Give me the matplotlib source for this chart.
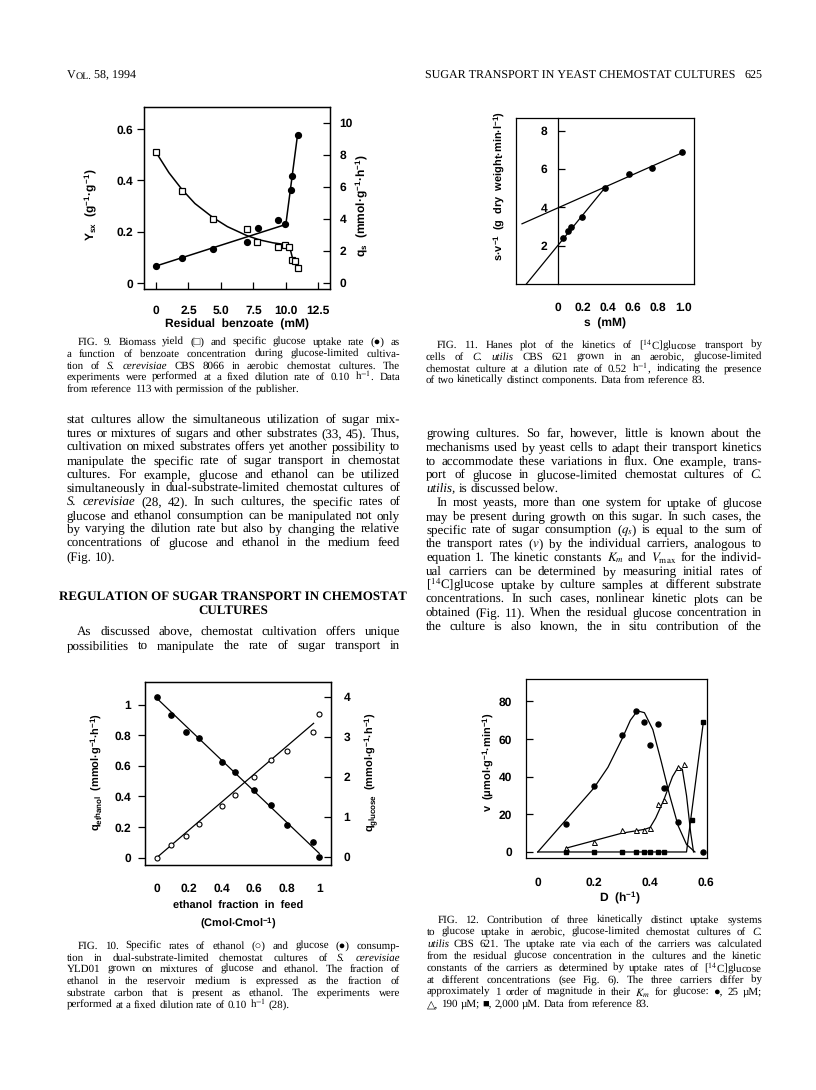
import matplotlib
matplotlib.use("Agg")
import matplotlib.pyplot as plt
from matplotlib.font_manager import FontProperties

plt.rcParams['font.family'] = ['Liberation Sans', 'DejaVu Sans']
plt.rcParams['mathtext.fontset'] = 'custom'
plt.rcParams['mathtext.rm'] = 'Liberation Sans:bold'
plt.rcParams['mathtext.it'] = 'Liberation Sans:italic:bold'
plt.rcParams['mathtext.bf'] = 'Liberation Sans:bold'
plt.rcParams['axes.linewidth'] = 0.9
plt.rcParams['text.hinting'] = 'no_hinting'
plt.rcParams['text.hinting_factor'] = 1

# ---- Fig. 9 data (benzoate)
benz_sq = [0, 1.98, 4.41, 6.98, 7.80, 9.37, 9.93, 10.27, 10.45, 10.70, 10.96]
yield_sq = [0.51, 0.36, 0.25, 0.21, 0.16, 0.14, 0.15, 0.14, 0.09, 0.085, 0.06]
benz_ci = [0, 1.98, 4.36, 7.0, 7.85, 9.37, 9.93, 10.37, 10.5, 10.9]
qs_ci = [1.06, 1.58, 2.10, 2.56, 3.45, 3.95, 3.66, 5.80, 6.70, 9.25]
fit9_sq_x = [0, 1, 2, 3, 4.4, 5.5, 7, 8, 9, 10, 10.3, 10.5, 10.7, 10.96]
fit9_sq_y = [0.51, 0.43, 0.365, 0.31, 0.255, 0.22, 0.185, 0.168, 0.157, 0.15, 0.14, 0.10, 0.08, 0.06]
fit9_ci_x = [0, 10.0, 10.9]
fit9_ci_y = [1.06, 3.66, 9.25]

# ---- Fig. 10 data (ethanol fraction)
eth_frac = [0, 0.09, 0.18, 0.26, 0.40, 0.48, 0.60, 0.70, 0.80, 0.96, 1.0]
q_eth = [0, 0.08, 0.14, 0.22, 0.34, 0.41, 0.53, 0.64, 0.70, 0.82, 0.94]
glc_frac = [0, 0.09, 0.18, 0.26, 0.40, 0.48, 0.60, 0.70, 0.80, 0.96, 1.0]
q_glc = [4.0, 3.55, 3.13, 2.98, 2.37, 2.13, 1.67, 1.29, 0.80, 0.38, 0.0]
fit10_eth_x = [0, 0.965]
fit10_eth_y = [0, 0.878]
fit10_glc_x = [0, 1.0]
fit10_glc_y = [3.97, 0.09]

# ---- Fig. 11 data (Hanes plot)
s_mm = [0.04, 0.075, 0.10, 0.19, 0.375, 0.565, 0.75, 0.99]
s_over_v = [2.42, 2.77, 2.96, 3.48, 5.03, 5.74, 6.03, 6.87]
fit11_a_x = [-0.29, 1.0]
fit11_a_y = [3.14, 6.87]
fit11_b_x = [-0.255, 0.375]
fit11_b_y = [0.0, 5.03]

# ---- Fig. 12 data (dilution rate)
d_ci = [0.10, 0.20, 0.30, 0.35, 0.38, 0.40, 0.43, 0.45, 0.50, 0.59]
v_ci = [15, 35, 62, 75, 69, 57, 68, 34, 16, 0]
d_tr = [0.10, 0.20, 0.30, 0.35, 0.38, 0.40, 0.43, 0.45, 0.50, 0.52]
v_tr = [2, 5.5, 11.5, 11.5, 11.5, 12.5, 25.5, 27.5, 45, 47]
d_sq = [0.10, 0.20, 0.30, 0.35, 0.38, 0.40, 0.43, 0.45, 0.55, 0.59]
v_sq = [0, 0, 0, 0, 0, 0, 0, 0, 17, 69]
fit12_ci_x = [0, 0.1, 0.2, 0.25, 0.3, 0.33, 0.355, 0.38, 0.41, 0.44, 0.47, 0.50, 0.53, 0.56]
fit12_ci_y = [0, 17, 34, 45, 60, 70, 75, 74, 65, 48, 30, 14, 4, 0]
fit12_tr_x = [0.1, 0.2, 0.3, 0.38, 0.40, 0.42, 0.45, 0.48, 0.50, 0.515, 0.53, 0.545, 0.555]
fit12_tr_y = [2, 6, 10, 12, 13, 18, 28, 40, 45, 44, 30, 10, 0]
fit12_sq_x = [0, 0.53, 0.59]
fit12_sq_y = [0, 0, 69]

W, H = 816, 1090
fig = plt.figure(figsize=(W / 100, H / 100), dpi=100)
rend = fig.canvas.get_renderer()
SERIF = 'Liberation Serif'
SERIF_FB = ['Liberation Serif', 'DejaVu Sans']
SYMBOLS = '\u25a1\u25cf\u25cb\u25b3\u25a0'


def fy(y):
    return 1 - y / H


def box(l, t, r, b):
    return fig.add_axes([l / W, 1 - b / H, (r - l) / W, (b - t) / H])


def bold_ticks(*axs):
    for a in axs:
        for lbl in a.get_xticklabels() + a.get_yticklabels():
            lbl.set_fontweight('bold')


def parse(w):
    style = 'normal'
    if len(w) > 2 and w.startswith('*') and w.endswith('*'):
        w, style = w[1:-1], 'italic'
    fam = SERIF_FB if any(c in SYMBOLS for c in w) else SERIF
    return w, style, fam


def measure(w, style, fam, size, weight='normal'):
    prop = FontProperties(family=fam, style=style, weight=weight, size=size,
                          math_fontfamily='stix')
    ismath = w.count('$') >= 2
    return rend.get_text_width_height_descent(w, prop, ismath=ismath)[0]


def line(x0, x1, y, s, size, justify=True, weight='normal'):
    words = [parse(w) for w in s.split(' ')]
    n = len(words)
    while True:
        widths = [measure(w, st, fam, size, weight) for w, st, fam in words]
        px = size * 100 / 72
        sp = 0.25 * px
        if justify and n > 1:
            sp = (x1 - x0 - sum(widths)) / (n - 1)
        if sp >= 0.17 * px or size < 5:
            break
        size *= 0.98
    x = x0
    for (w, st, fam), wd in zip(words, widths):
        fig.text(x / W, fy(y), w, fontsize=size, family=fam, style=st, weight=weight,
                 math_fontfamily='stix', ha='left', va='baseline')
        x += wd + sp


def block(x0, x1, y0, dy, rows, size, ragged=(), indent=(), ind=10.5):
    for i, s in enumerate(rows):
        xs = x0 + (ind if i in indent else 0)
        line(xs, x1, round(y0 + i * dy + size * 0.5), s, size, justify=i not in ragged)


# ---------------- running head
x = 66.7
for piece, sz in [('V', 8.8), ('OL.', 6.9)]:
    fig.text(x / W, fy(78.5), piece, fontsize=sz, family=SERIF, ha='left', va='baseline')
    x += measure(piece, 'normal', SERIF, sz)
fig.text((x + 2.5) / W, fy(78.5), '58, 1994', fontsize=8.8, family=SERIF, ha='left', va='baseline')
fig.text(425 / W, fy(78.5), 'SUGAR TRANSPORT IN YEAST CHEMOSTAT CULTURES', fontsize=8.3,
         family=SERIF, ha='left', va='baseline')
fig.text(762 / W, fy(78.5), '625', fontsize=8.8, family=SERIF, ha='right', va='baseline')

# ---------------- FIG 9
ax = box(144, 107, 330, 289)
ax.plot(fit9_sq_x, fit9_sq_y, color='black', lw=1.1)
ax.plot(benz_sq, yield_sq, ls='none', marker='s', ms=4.2, mfc='white', mec='black', mew=0.9)
ax.set_xlim(-0.92, 13.4)
ax.set_ylim(-0.023, 0.686)
ax.set_xticks([0, 2.5, 5, 7.5, 10, 12.5])
ax.set_xticklabels(['0', '2.5', '5.0', '7.5', '10.0', '12.5'])
ax.set_yticks([0, 0.2, 0.4, 0.6])
ax.set_yticklabels(['0', '0.2', '0.4', '0.6'])
ax.tick_params(axis='x', direction='in', length=5, width=0.9, pad=12, labelsize=8.3)
ax.tick_params(axis='y', direction='out', length=5, width=0.9, pad=3, labelsize=8.3)
ax2 = ax.twinx()
ax2.plot(fit9_ci_x, fit9_ci_y, color='black', lw=1.1)
ax2.plot(benz_ci, qs_ci, ls='none', marker='o', ms=4.2, color='black')
ax2.set_ylim(-0.375, 11.0)
ax2.set_yticks([0, 2, 4, 6, 8, 10])
ax2.tick_params(axis='y', direction='in', length=5, width=0.9, pad=7, labelsize=8.3)
bold_ticks(ax, ax2)
fig.text(91 / W, fy(205), r'Y$_{\mathrm{sx}}$  (g$^{-1}$·g$^{-1}$)', rotation=90,
         ha='center', va='center', fontsize=8.3, weight='bold')
fig.text(362 / W, fy(205), r'q$_{\mathrm{s}}$  (mmol·g$^{-1}$·h$^{-1}$)', rotation=90,
         ha='center', va='center', fontsize=8.3, weight='bold')
fig.text(237 / W, fy(324), 'Residual  benzoate  (mM)', ha='center', va='center',
         fontsize=8.5, weight='bold')

cap9 = ['FIG. 9. Biomass yield (\u25a1) and specific glucose uptake rate (\u25cf) as',
        'a function of benzoate concentration during glucose-limited cultiva-',
        'tion of *S.* *cerevisiae* CBS 8066 in aerobic chemostat cultures. The',
        'experiments were performed at a fixed dilution rate of 0.10 h$^{-1}$. Data',
        'from reference 113 with permission of the publisher.']
block(66.7, 400, 340.7, 11.9, cap9, 8.1, ragged=(4,), indent=(0,))

# ---------------- left body text
body_l = ['stat cultures allow the simultaneous utilization of sugar mix-',
          'tures or mixtures of sugars and other substrates (33, 45). Thus,',
          'cultivation on mixed substrates offers yet another possibility to',
          'manipulate the specific rate of sugar transport in chemostat',
          'cultures. For example, glucose and ethanol can be utilized',
          'simultaneously in dual-substrate-limited chemostat cultures of',
          '*S.* *cerevisiae* (28, 42). In such cultures, the specific rates of',
          'glucose and ethanol consumption can be manipulated not only',
          'by varying the dilution rate but also by changing the relative',
          'concentrations of glucose and ethanol in the medium feed',
          '(Fig. 10).']
block(66.7, 400, 418.3, 13.7, body_l, 9.2, ragged=(10,))
fig.text(233 / W, fy(599.5), 'REGULATION OF SUGAR TRANSPORT IN CHEMOSTAT', fontsize=9.1,
         family=SERIF, weight='bold', ha='center', va='baseline')
fig.text(233 / W, fy(613.5), 'CULTURES', fontsize=9.1, family=SERIF, weight='bold',
         ha='center', va='baseline')
body_l2 = ['As discussed above, chemostat cultivation offers unique',
           'possibilities to manipulate the rate of sugar transport in']
block(66.7, 400, 630.7, 13.7, body_l2, 9.2, indent=(0,))

# ---------------- FIG 10
ax = box(145, 682, 331, 865)
ax.plot(fit10_eth_x, fit10_eth_y, color='black', lw=0.9)
ax.plot(eth_frac, q_eth, ls='none', marker='o', ms=3.6, mfc='white', mec='black', mew=0.8)
ax.set_xlim(-0.072, 1.072)
ax.set_ylim(-0.048, 1.148)
ax.set_xticks([0, 0.2, 0.4, 0.6, 0.8, 1.0])
ax.set_xticklabels(['0', '0.2', '0.4', '0.6', '0.8', '1'])
ax.set_yticks([0, 0.2, 0.4, 0.6, 0.8, 1.0])
ax.set_yticklabels(['0', '0.2', '0.4', '0.6', '0.8', '1'])
ax.tick_params(axis='x', direction='in', length=0, pad=13, labelsize=8.3)
ax.tick_params(axis='y', direction='out', length=5, width=0.9, pad=5, labelsize=8.3)
ax2 = ax.twinx()
ax2.plot(fit10_glc_x, fit10_glc_y, color='black', lw=0.9)
ax2.plot(glc_frac, q_glc, ls='none', marker='o', ms=3.8, color='black')
ax2.set_ylim(-0.2, 4.375)
ax2.set_yticks([0, 1, 2, 3, 4])
ax2.tick_params(axis='y', direction='in', length=5, width=0.9, pad=9, labelsize=8.3)
bold_ticks(ax, ax2)
fig.text(97 / W, fy(772), r'q$_{\mathrm{ethanol}}$  (mmol·g$^{-1}$·h$^{-1}$)', rotation=90,
         ha='center', va='center', fontsize=7.8, weight='bold')
fig.text(371 / W, fy(772), r'q$_{\mathrm{glucose}}$  (mmol·g$^{-1}$·h$^{-1}$)', rotation=90,
         ha='center', va='center', fontsize=7.8, weight='bold')
fig.text(238 / W, fy(906.5), 'ethanol  fraction  in  feed', ha='center', va='center',
         fontsize=8.2, weight='bold')
fig.text(238 / W, fy(923.5), r'(Cmol·Cmol$^{-1}$)', ha='center', va='center',
         fontsize=8.2, weight='bold')

cap10 = ['FIG. 10. Specific rates of ethanol (\u25cb) and glucose (\u25cf) consump-',
         'tion in dual-substrate-limited chemostat cultures of *S.* *cerevisiae*',
         'YLD01 grown on mixtures of glucose and ethanol. The fraction of',
         'ethanol in the reservoir medium is expressed as the fraction of',
         'substrate carbon that is present as ethanol. The experiments were',
         'performed at a fixed dilution rate of 0.10 h$^{-1}$ (28).']
block(66.7, 400, 945, 11.7, cap10, 8.1, ragged=(5,), indent=(0,))

# ---------------- FIG 11
ax = box(516, 118, 694, 284)
ax.plot(fit11_a_x, fit11_a_y, color='black', lw=0.9)
ax.plot(fit11_b_x, fit11_b_y, color='black', lw=0.9)
ax.plot(s_mm, s_over_v, ls='none', marker='o', ms=3.8, color='black')
ax.set_xlim(-0.338, 1.086)
ax.set_ylim(0, 8.66)
ax.spines['left'].set_position(('data', 0))
ax.plot([0, 0], [0, 1], transform=ax.transAxes, color='black', lw=0.9, clip_on=False)
ax.set_xticks([0, 0.2, 0.4, 0.6, 0.8, 1.0])
ax.set_xticklabels(['0', '0.2', '0.4', '0.6', '0.8', '1.0'])
ax.set_yticks([2, 4, 6, 8])
ax.tick_params(axis='x', length=0, pad=13, labelsize=8.3)
ax.tick_params(axis='y', direction='in', length=5, width=0.9, pad=8, labelsize=8.3)
bold_ticks(ax)
fig.text(500 / W, fy(186), r's·v$^{-1}$  (g  dry  weight·min·l$^{-1}$)', rotation=90,
         ha='center', va='center', fontsize=7.8, weight='bold')
fig.text(605 / W, fy(323), 's  (mM)', ha='center', va='center', fontsize=8.3, weight='bold')

cap11 = ['FIG. 11. Hanes plot of the kinetics of [$^{14}$C]glucose transport by',
         'cells of *C.* *utilis* CBS 621 grown in an aerobic, glucose-limited',
         'chemostat culture at a dilution rate of 0.52 h$^{-1}$, indicating the presence',
         'of two kinetically distinct components. Data from reference 83.']
block(426, 762, 344, 11.8, cap11, 8.1, ragged=(3,), indent=(0,))

# ---------------- right body text
body_r = ['growing cultures. So far, however, little is known about the',
          'mechanisms used by yeast cells to adapt their transport kinetics',
          'to accommodate these variations in flux. One example, trans-',
          'port of glucose in glucose-limited chemostat cultures of *C.*',
          '*utilis,* is discussed below.',
          'In most yeasts, more than one system for uptake of glucose',
          'may be present during growth on this sugar. In such cases, the',
          'specific rate of sugar consumption ($q_s$) is equal to the sum of',
          'the transport rates ($v$) by the individual carriers, analogous to',
          'equation 1. The kinetic constants $K_m$ and $V_{\\mathrm{max}}$ for the individ-',
          'ual carriers can be determined by measuring initial rates of',
          '[$^{14}$C]glucose uptake by culture samples at different substrate',
          'concentrations. In such cases, nonlinear kinetic plots can be',
          'obtained (Fig. 11). When the residual glucose concentration in',
          'the culture is also known, the in situ contribution of the']
block(426, 762, 432.7, 13.73, body_r, 9.2, ragged=(4,), indent=(5,))

# ---------------- FIG 12
ax = box(526, 679, 707, 858)
ax.plot(fit12_ci_x, fit12_ci_y, color='black', lw=0.9)
ax.plot(fit12_tr_x, fit12_tr_y, color='black', lw=0.9)
ax.plot(fit12_sq_x, fit12_sq_y, color='black', lw=0.9)
ax.plot(d_ci, v_ci, ls='none', marker='o', ms=3.6, color='black')
ax.plot(d_tr, v_tr, ls='none', marker='^', ms=3.6, mfc='white', mec='black', mew=0.7)
ax.plot(d_sq, v_sq, ls='none', marker='s', ms=3.4, color='black')
ax.set_xlim(-0.042, 0.603)
ax.set_ylim(-3.2, 91.9)
ax.set_xticks([0, 0.2, 0.4, 0.6])
ax.set_xticklabels(['0', '0.2', '0.4', '0.6'])
ax.set_yticks([0, 20, 40, 60, 80])
ax.tick_params(axis='x', length=0, pad=14, labelsize=8.3)
ax.tick_params(axis='y', direction='in', length=5, width=0.9, pad=10, labelsize=8.3)
bold_ticks(ax)
fig.text(489 / W, fy(762), r'v  ($\mathrm{\mu}$mol·g$^{-1}$·min$^{-1}$)', rotation=90,
         ha='center', va='center', fontsize=8.0, weight='bold')
fig.text(620 / W, fy(898), r'D  (h$^{-1}$)', ha='center', va='center', fontsize=8.3, weight='bold')

cap12 = ['FIG. 12. Contribution of three kinetically distinct uptake systems',
         'to glucose uptake in aerobic, glucose-limited chemostat cultures of *C.*',
         '*utilis* CBS 621. The uptake rate via each of the carriers was calculated',
         'from the residual glucose concentration in the cultures and the kinetic',
         'constants of the carriers as determined by uptake rates of [$^{14}$C]glucose',
         'at different concentrations (see Fig. 6). The three carriers differ by',
         'approximately 1 order of magnitude in their $K_m$ for glucose: \u25cf, 25 \u00b5M;',
         '\u25b3, 190 \u00b5M; \u25a0, 2,000 \u00b5M. Data from reference 83.']
block(427, 762, 919.3, 11.9, cap12, 8.1, ragged=(7,), indent=(0,))

fig.savefig('out.png', dpi=100)
